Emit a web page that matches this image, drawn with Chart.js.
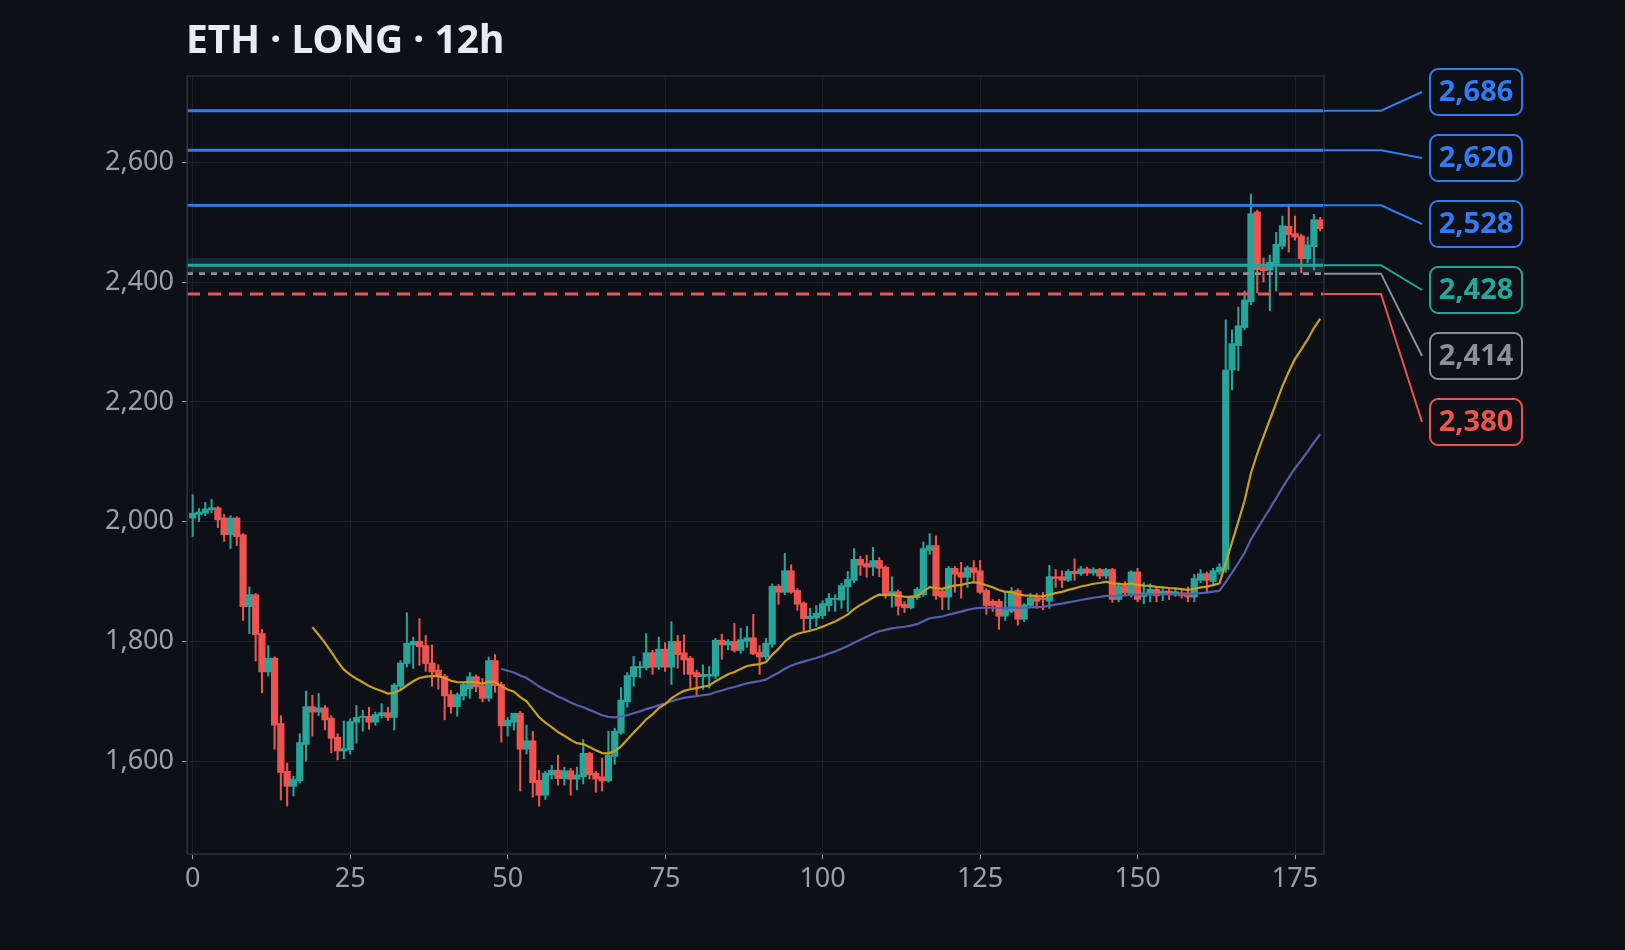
<!DOCTYPE html>
<html>
<head>
<meta charset="utf-8">
<script src="https://cdn.jsdelivr.net/npm/chart.js@4/dist/chart.umd.min.js"></script>
<style>
  html, body { margin: 0; padding: 0; background: #0d1017; }
  #wrap { width: 1625px; height: 950px; }
</style>
</head>
<body>
<div id="wrap"><canvas id="chart"></canvas></div>
<script>
// candle data (index 0..179)
const opens = [2006,2012,2014,2020,2023,2006,1978,2006,1978,1858,1878,1813,1749,1772,1663,1583,1558,1567,1628,1691,
  1682,1689,1672,1640,1617,1619,1665,1673,1675,1665,1676,1681,1673,1725,1763,1794,1800,1793,1764,1752,
  1742,1711,1691,1709,1721,1741,1726,1705,1768,1728,1659,1665,1680,1620,1634,1568,1543,1577,1585,1571,
  1584,1570,1574,1613,1580,1574,1567,1608,1647,1699,1741,1756,1756,1781,1757,1787,1757,1800,1781,1772,
  1748,1741,1742,1742,1802,1794,1800,1785,1800,1806,1782,1774,1795,1892,1882,1918,1885,1864,1838,1839,
  1843,1860,1870,1869,1891,1902,1937,1930,1924,1935,1924,1876,1883,1862,1856,1873,1878,1952,1960,1884,
  1874,1922,1915,1907,1923,1918,1885,1867,1867,1842,1850,1885,1837,1860,1873,1872,1867,1908,1908,1902,
  1917,1913,1921,1914,1920,1909,1920,1870,1893,1878,1916,1875,1878,1887,1878,1884,1878,1881,1881,1874,
  1902,1913,1900,1916,1920,2253,2294,2324,2367,2517,2424,2420,2431,2460,2493,2481,2477,2439,2459,2504];
const highs = [2045,2022,2032,2037,2025,2012,2010,2008,1980,1891,1880,1820,1793,1774,1676,1597,1575,1646,1717,1710,
  1713,1693,1676,1646,1667,1671,1693,1685,1690,1682,1696,1690,1730,1768,1848,1807,1838,1810,1794,1761,
  1745,1718,1714,1732,1748,1744,1738,1774,1778,1732,1673,1680,1683,1660,1650,1585,1583,1593,1610,1590,
  1588,1590,1636,1615,1583,1605,1650,1655,1723,1748,1775,1766,1813,1785,1807,1798,1833,1810,1811,1775,
  1752,1761,1758,1805,1812,1803,1830,1822,1825,1845,1793,1805,1896,1895,1947,1928,1888,1866,1855,1860,
  1868,1880,1878,1897,1917,1955,1942,1944,1957,1940,1926,1908,1886,1866,1876,1890,1966,1980,1976,1888,
  1925,1925,1932,1926,1935,1935,1888,1870,1870,1882,1890,1888,1863,1880,1880,1882,1927,1920,1918,1920,
  1938,1925,1924,1923,1922,1922,1922,1896,1900,1918,1922,1898,1896,1890,1888,1887,1888,1886,1891,1912,
  1920,1916,1922,1930,2337,2320,2358,2385,2547,2520,2440,2445,2483,2510,2530,2510,2480,2475,2513,2508];
const lows = [1975,2000,2010,2015,1990,1967,1955,1960,1835,1813,1767,1714,1742,1620,1535,1525,1542,1563,1600,1642,
  1676,1652,1614,1602,1604,1612,1630,1650,1653,1660,1672,1668,1652,1720,1757,1755,1760,1750,1725,1720,
  1669,1680,1675,1702,1705,1716,1699,1700,1715,1632,1642,1652,1550,1612,1540,1525,1536,1570,1560,1560,
  1543,1552,1562,1570,1548,1550,1565,1595,1645,1690,1725,1740,1752,1745,1753,1750,1728,1755,1745,1722,
  1710,1720,1722,1738,1770,1786,1782,1780,1790,1778,1745,1770,1790,1862,1878,1880,1852,1818,1820,1825,
  1838,1850,1850,1855,1850,1898,1910,1907,1910,1908,1872,1857,1844,1848,1854,1870,1875,1945,1870,1853,
  1853,1882,1872,1890,1900,1880,1845,1850,1820,1835,1848,1827,1833,1858,1855,1853,1855,1890,1890,1900,
  1902,1910,1910,1910,1905,1905,1865,1866,1876,1874,1866,1863,1866,1866,1868,1870,1875,1872,1866,1866,
  1898,1883,1896,1912,1915,2220,2252,2320,2362,2382,2400,2352,2385,2455,2450,2470,2415,2432,2420,2485];
const closes = [2014,2016,2021,2023,2003,1978,2006,1975,1858,1878,1811,1749,1772,1660,1581,1558,1570,1631,1691,1682,
  1689,1669,1638,1617,1621,1666,1673,1675,1665,1678,1681,1673,1727,1764,1797,1800,1791,1763,1749,1742,
  1709,1691,1711,1728,1741,1724,1705,1768,1726,1659,1668,1680,1620,1634,1564,1543,1580,1585,1571,1584,
  1570,1577,1613,1577,1570,1567,1610,1650,1702,1743,1758,1758,1781,1757,1787,1757,1800,1778,1769,1745,
  1741,1745,1745,1802,1794,1800,1785,1803,1806,1779,1774,1797,1892,1882,1918,1882,1862,1838,1842,1847,
  1863,1872,1872,1893,1904,1937,1927,1924,1935,1922,1876,1883,1859,1856,1874,1887,1955,1960,1876,1874,
  1922,1912,1907,1923,1915,1882,1860,1860,1842,1853,1883,1837,1861,1873,1867,1870,1908,1905,1902,1917,
  1913,1921,1914,1920,1909,1920,1870,1893,1881,1916,1870,1881,1887,1876,1884,1878,1883,1876,1874,1905,
  1913,1902,1918,1924,2253,2297,2327,2370,2514,2421,2419,2433,2463,2494,2479,2475,2439,2462,2504,2489];

// trade levels drawn across the chart
const levelValues = [2686, 2620, 2528, 2428, 2414, 2380];
const levelColors = ['#2f7cf6', '#2f7cf6', '#2f7cf6', '#26a69a', '#8a9099', '#ef5350'];
const entryZone = [2416, 2440];

const yTicks = [1600, 1800, 2000, 2200, 2400, 2600];
const xTicks = [0, 25, 50, 75, 100, 125, 150, 175];

const UP = '#26a69a', DOWN = '#ef5350';
const X_MIN = -0.9, X_MAX = 179.6;

// exponential moving average, seeded with the simple average
function ema(period) {
  const out = [];
  let s = 0;
  for (let i = 0; i < period; i++) s += closes[i];
  let e = s / period;
  out.push({ x: period - 1, y: e });
  const k = 2 / (period + 1);
  for (let i = period; i < closes.length; i++) {
    e = closes[i] * k + e * (1 - k);
    out.push({ x: i, y: e });
  }
  return out;
}

const bodies = closes.map((c, i) => ({ x: i, y: [opens[i], c] }));
const wicks = closes.map((c, i) => ({ x: i, y: [lows[i], highs[i]] }));
const candleColors = closes.map((c, i) => c >= opens[i] ? UP : DOWN);

const levelSets = levelValues.map((v, i) => ({
  type: 'line',
  data: [{ x: X_MIN, y: v }, { x: X_MAX, y: v }],
  borderColor: levelColors[i],
  borderWidth: i === 3 ? 3 : 2.8,
  borderDash: i === 4 ? [6, 6] : (i === 5 ? [13, 8] : []),
  pointRadius: 0,
  order: 0
}));

// entry zone band + right side labels
const overlay = {
  id: 'overlay',
  beforeDatasetsDraw(chart) {
    const { ctx, chartArea: a, scales: { y } } = chart;
    const y1 = y.getPixelForValue(entryZone[1]), y2 = y.getPixelForValue(entryZone[0]);
    ctx.save();
    ctx.fillStyle = 'rgba(38,166,154,0.18)';
    ctx.fillRect(a.left, y1, a.right - a.left, y2 - y1);
    ctx.restore();
  },
  afterDraw(chart) {
    const { ctx, chartArea: a, scales: { y } } = chart;
    ctx.save();
    // title
    ctx.fillStyle = '#e8ecf2';
    ctx.font = 'bold 39px "Noto Sans"';
    ctx.textBaseline = 'middle';
    ctx.textAlign = 'left';
    ctx.fillText('ETH \u00b7 LONG \u00b7 12h', 186, 42);
    // plot border
    ctx.strokeStyle = '#2a2f38';
    ctx.lineWidth = 1.5;
    ctx.strokeRect(a.left, a.top, a.right - a.left, a.bottom - a.top);

    levelValues.forEach((v, i) => {
      const py = y.getPixelForValue(v);
      const cy = 92 + i * 66;
      ctx.strokeStyle = levelColors[i];
      ctx.lineWidth = 2;
      ctx.beginPath();
      ctx.moveTo(a.right, py);
      ctx.lineTo(1381, py);
      ctx.lineTo(1422, cy);
      ctx.stroke();
      ctx.beginPath();
      ctx.roundRect(1430, cy - 23, 92, 46, 8);
      ctx.fillStyle = '#0d1017';
      ctx.fill();
      ctx.lineWidth = 2;
      ctx.stroke();
      ctx.fillStyle = levelColors[i];
      ctx.font = 'bold 29px "Noto Sans"';
      ctx.textAlign = 'center';
      ctx.fillText(v.toLocaleString('en-US'), 1476, cy + 1);
    });
    ctx.restore();
  }
};

new Chart(document.getElementById('chart'), {
  data: {
    datasets: [
      { type: 'line', data: ema(20), borderColor: '#c9a01c', borderWidth: 2.2, pointRadius: 0, order: 1 },
      { type: 'line', data: ema(50), borderColor: '#565fa8', borderWidth: 2.2, pointRadius: 0, order: 1 },
      ...levelSets,
      { type: 'bar', data: bodies, backgroundColor: candleColors, barThickness: 6.5, minBarLength: 1, grouped: false, order: 2 },
      { type: 'bar', data: wicks, backgroundColor: candleColors, barThickness: 1.4, grouped: false, order: 3 }
    ]
  },
  options: {
    responsive: true,
    maintainAspectRatio: false,
    animation: false,
    layout: { padding: { top: 76, right: 301, left: 0, bottom: 0 } },
    plugins: { legend: { display: false }, tooltip: { enabled: false } },
    scales: {
      x: {
        type: 'linear', min: X_MIN, max: X_MAX, offset: false,
        afterBuildTicks(s) { s.ticks = xTicks.map(v => ({ value: v })); },
        afterFit(s) { s.height = 96; },
        grid: { color: '#1b2028', tickColor: '#9aa0a6', tickLength: 5, offset: false },
        border: { color: '#2a2f38' },
        ticks: { color: '#9aa0a6', font: { family: 'Noto Sans', size: 27 }, padding: 4 }
      },
      y: {
        type: 'linear', min: 1445, max: 2744,
        afterBuildTicks(s) { s.ticks = yTicks.map(v => ({ value: v })); },
        afterFit(s) { s.width = 187; },
        grid: { color: '#1b2028', tickColor: '#9aa0a6', tickLength: 5 },
        border: { color: '#2a2f38' },
        ticks: { color: '#9aa0a6', font: { family: 'Noto Sans', size: 27 }, padding: 8,
          callback: v => v.toLocaleString('en-US') }
      }
    }
  },
  plugins: [overlay]
});
</script>
</body>
</html>
